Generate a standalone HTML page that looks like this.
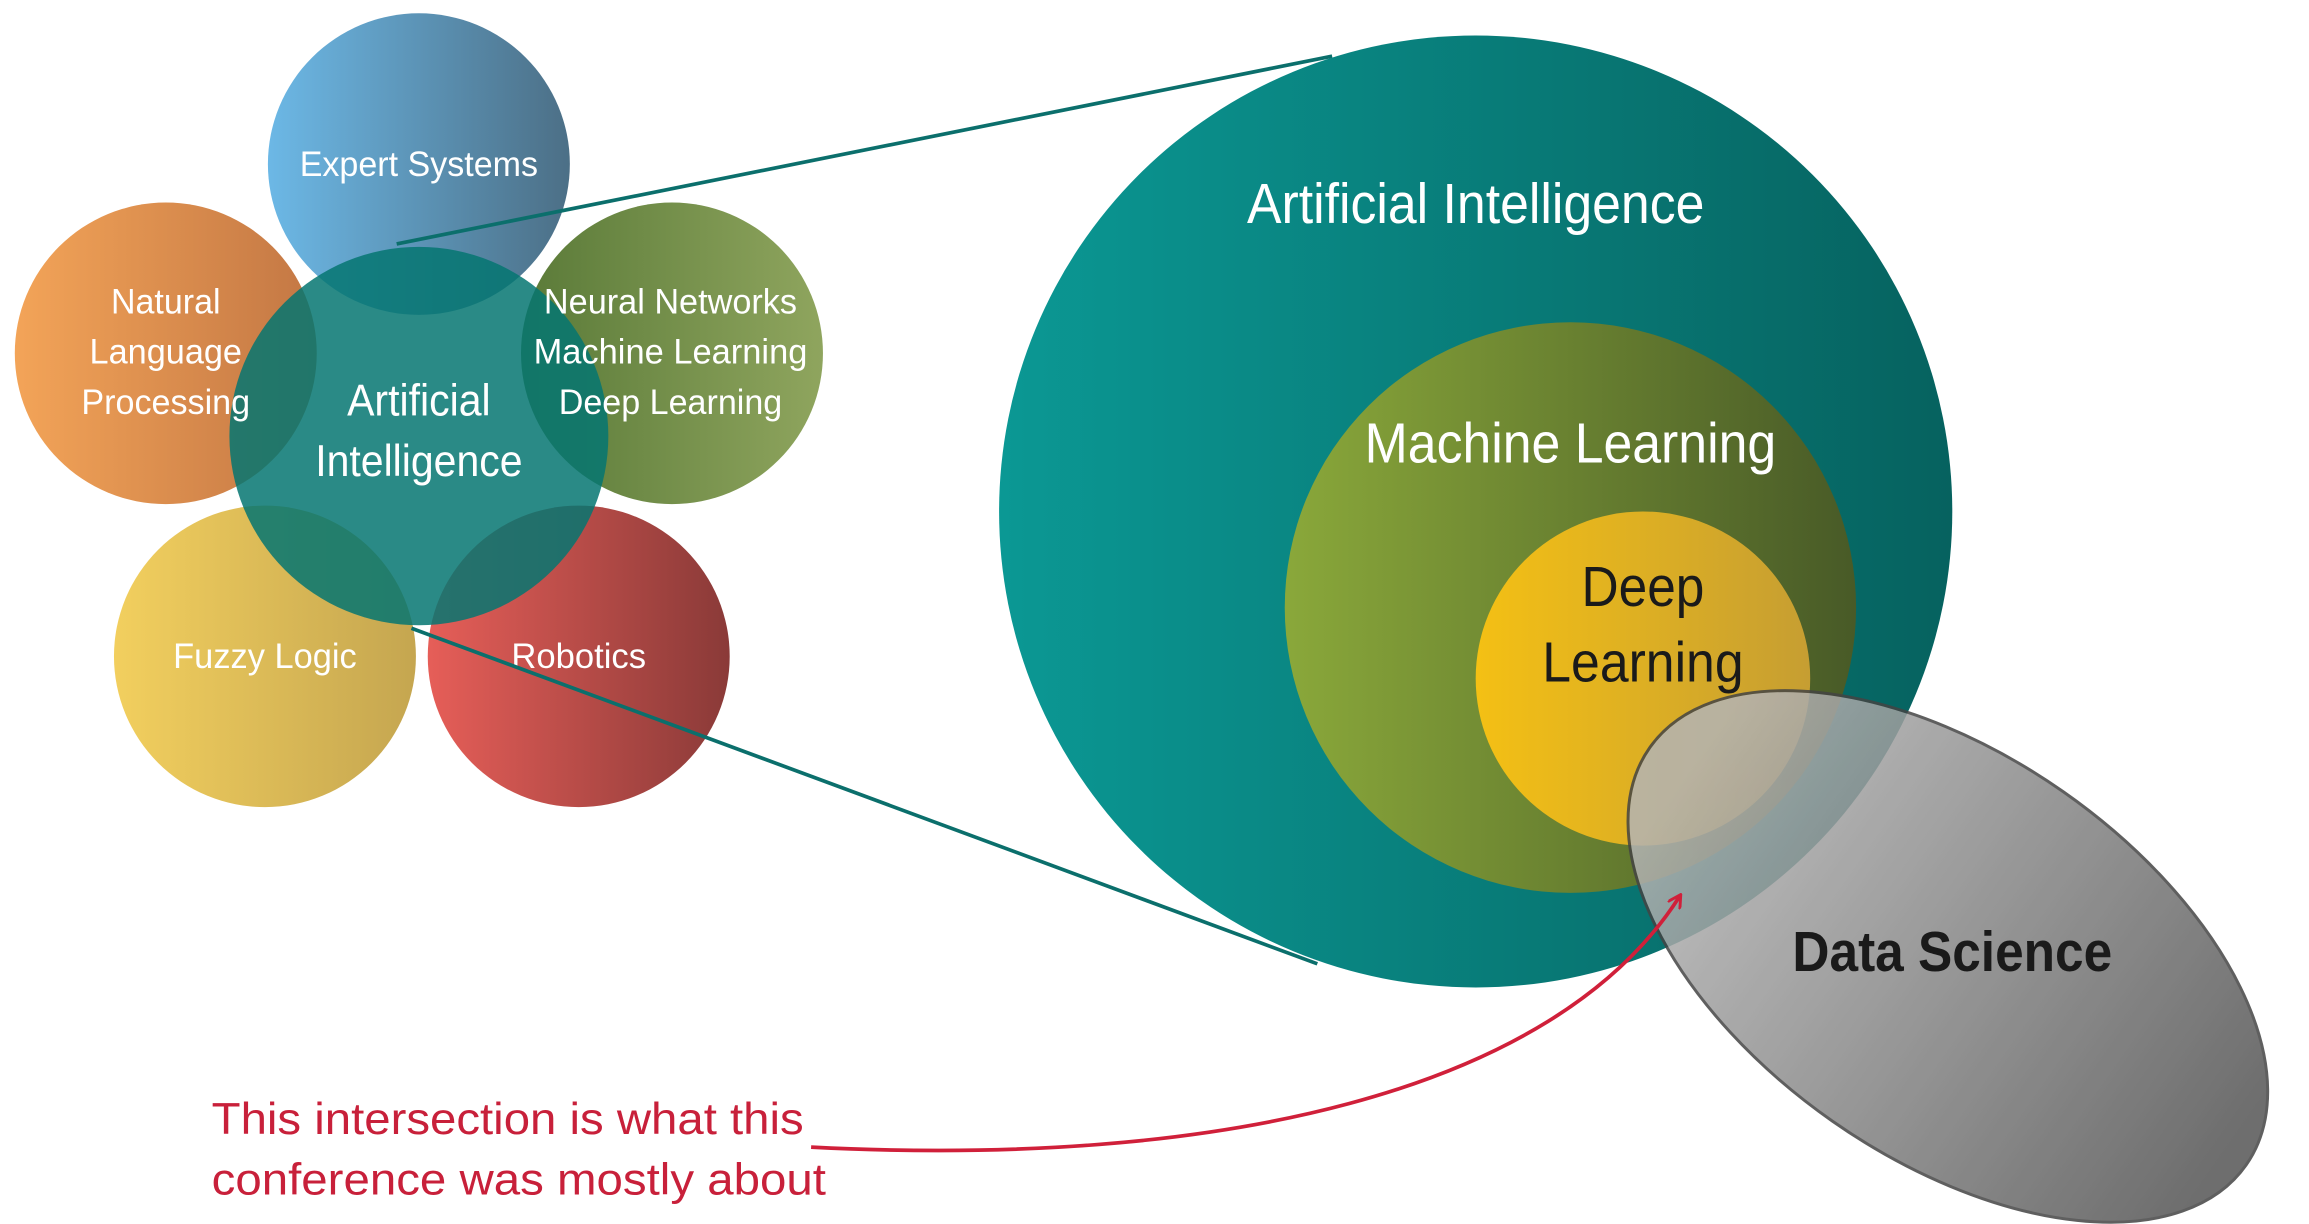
<!DOCTYPE html>
<html><head><meta charset="utf-8"><style>
html,body{margin:0;padding:0;background:#fff;overflow:hidden;width:2309px;height:1224px;}
svg{display:block;}
text{font-family:"Liberation Sans",sans-serif;}
</style></head><body>
<svg width="2309" height="1224" viewBox="0 0 1560 828" preserveAspectRatio="none" xmlns="http://www.w3.org/2000/svg">
<defs>
<linearGradient id="gES" x1="0" x2="1"><stop offset="0" stop-color="#6cb8e6"/><stop offset="1" stop-color="#4c6f86"/></linearGradient>
<linearGradient id="gNLP" x1="0" x2="1"><stop offset="0" stop-color="#f3a458"/><stop offset="1" stop-color="#c37744"/></linearGradient>
<linearGradient id="gNN" x1="0" x2="1"><stop offset="0" stop-color="#5a7a38"/><stop offset="1" stop-color="#8fa55e"/></linearGradient>
<linearGradient id="gFL" x1="0" x2="1"><stop offset="0" stop-color="#f2cf5e"/><stop offset="1" stop-color="#c5a650"/></linearGradient>
<linearGradient id="gRB" x1="0" x2="1"><stop offset="0" stop-color="#e65e58"/><stop offset="1" stop-color="#8a3a38"/></linearGradient>
<linearGradient id="gAI" x1="0" x2="1"><stop offset="0" stop-color="#0b9894"/><stop offset="1" stop-color="#06625f"/></linearGradient>
<linearGradient id="gML" x1="0" x2="1"><stop offset="0" stop-color="#8aa83a"/><stop offset="1" stop-color="#485a27"/></linearGradient>
<linearGradient id="gDL" x1="0" x2="1"><stop offset="0" stop-color="#f4c014"/><stop offset="1" stop-color="#c69e32"/></linearGradient>
<linearGradient id="gDS" gradientUnits="userSpaceOnUse" x1="1100" y1="0" x2="1547" y2="0"><stop offset="0" stop-color="#b4b4b4"/><stop offset="1" stop-color="#555"/></linearGradient>
<marker id="ar" markerWidth="10" markerHeight="10" refX="8" refY="5" orient="auto" markerUnits="userSpaceOnUse"><path d="M0,0 L9,5 L0,10" fill="none" stroke="#d0203a" stroke-width="2"/></marker>
</defs>
<circle cx="283" cy="111" r="102" fill="url(#gES)"/>
<circle cx="112" cy="239" r="102" fill="url(#gNLP)"/>
<circle cx="454" cy="239" r="102" fill="url(#gNN)"/>
<circle cx="179" cy="444" r="102" fill="url(#gFL)"/>
<circle cx="391" cy="444" r="102" fill="url(#gRB)"/>
<circle cx="283" cy="295" r="128" fill="#057571" opacity="0.85"/>
<text x="283" y="119" font-size="24" fill="#fff" text-anchor="middle" textLength="161" lengthAdjust="spacingAndGlyphs">Expert Systems</text>
<text x="112" y="212" font-size="24" fill="#fff" text-anchor="middle" textLength="74" lengthAdjust="spacingAndGlyphs">Natural</text>
<text x="112" y="246" font-size="24" fill="#fff" text-anchor="middle" textLength="103" lengthAdjust="spacingAndGlyphs">Language</text>
<text x="112" y="280" font-size="24" fill="#fff" text-anchor="middle" textLength="114" lengthAdjust="spacingAndGlyphs">Processing</text>
<text x="453" y="212" font-size="24" fill="#fff" text-anchor="middle" textLength="171" lengthAdjust="spacingAndGlyphs">Neural Networks</text>
<text x="453" y="246" font-size="24" fill="#fff" text-anchor="middle" textLength="185" lengthAdjust="spacingAndGlyphs">Machine Learning</text>
<text x="453" y="280" font-size="24" fill="#fff" text-anchor="middle" textLength="151" lengthAdjust="spacingAndGlyphs">Deep Learning</text>
<text x="283" y="281" font-size="30" fill="#fff" text-anchor="middle" textLength="97" lengthAdjust="spacingAndGlyphs">Artificial</text>
<text x="283" y="322" font-size="30" fill="#fff" text-anchor="middle" textLength="140" lengthAdjust="spacingAndGlyphs">Intelligence</text>
<text x="179" y="452" font-size="24" fill="#fff" text-anchor="middle" textLength="124" lengthAdjust="spacingAndGlyphs">Fuzzy Logic</text>
<text x="391" y="452" font-size="24" fill="#fff" text-anchor="middle" textLength="91" lengthAdjust="spacingAndGlyphs">Robotics</text>
<line x1="268" y1="165" x2="900" y2="38" stroke="#0b6f6c" stroke-width="2.5"/>
<line x1="278" y1="425" x2="890" y2="652" stroke="#0b6f6c" stroke-width="2.5"/>
<circle cx="997" cy="346" r="322" fill="url(#gAI)"/>
<circle cx="1061" cy="411" r="193" fill="url(#gML)"/>
<circle cx="1110" cy="459" r="113" fill="url(#gDL)"/>
<text x="997" y="151" font-size="38" fill="#fff" text-anchor="middle" textLength="309" lengthAdjust="spacingAndGlyphs">Artificial Intelligence</text>
<text x="1061" y="313" font-size="38" fill="#fff" text-anchor="middle" textLength="278" lengthAdjust="spacingAndGlyphs">Machine Learning</text>
<text x="1110" y="410" font-size="38" fill="#1a1a1a" text-anchor="middle" textLength="83" lengthAdjust="spacingAndGlyphs">Deep</text>
<text x="1110" y="461" font-size="38" fill="#1a1a1a" text-anchor="middle" textLength="136" lengthAdjust="spacingAndGlyphs">Learning</text>
<ellipse cx="1316" cy="647" rx="246" ry="136" transform="rotate(35 1316 647)" fill="url(#gDS)" opacity="0.85" stroke="#444" stroke-width="2"/>
<text x="1319" y="657" font-size="38" font-weight="bold" fill="#1a1a1a" text-anchor="middle" textLength="216" lengthAdjust="spacingAndGlyphs">Data Science</text>
<path d="M548,776 C820,790 1050,740 1135,606" fill="none" stroke="#d0203a" stroke-width="2.5" marker-end="url(#ar)"/>
<text x="143" y="767" font-size="30" fill="#c8203a" textLength="400" lengthAdjust="spacingAndGlyphs">This intersection is what this</text>
<text x="143" y="808" font-size="30" fill="#c8203a" textLength="415" lengthAdjust="spacingAndGlyphs">conference was mostly about</text>
</svg>
</body></html>
